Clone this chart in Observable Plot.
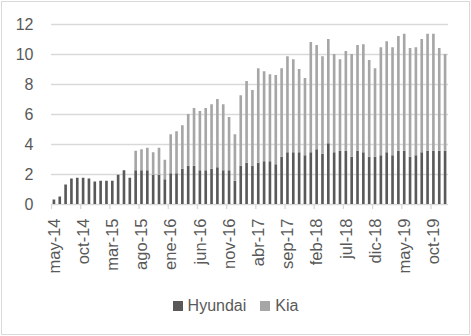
<!DOCTYPE html>
<html>
<head>
<meta charset="utf-8">
<script src="https://cdn.jsdelivr.net/npm/d3@7"></script>
<script src="https://cdn.jsdelivr.net/npm/@observablehq/plot@0.6"></script>
<style>
  html, body { margin: 0; padding: 0; background: #fff; }
  body { width: 471px; height: 336px; position: relative; overflow: hidden; font-family: "Liberation Sans", Arial, sans-serif; }
  #frame { position: absolute; left: 1px; top: 1px; width: 467px; height: 332px; border: 1px solid #d9d9d9; box-sizing: content-box; }
  #chart { position: absolute; left: 0; top: 0; }
  #legend { position: absolute; left: 0; width: 471px; top: 296px; height: 20px; display: flex; justify-content: center; align-items: center; font-size: 16px; color: #595959; }
  #legend .item { display: flex; align-items: center; }
  #legend .sw { width: 10px; height: 10px; margin-right: 5px; }
</style>
</head>
<body>
<div id="frame"></div>
<div id="chart"></div>
<div id="legend"></div>
<script>
const months = ["ene","feb","mar","abr","may","jun","jul","ago","sep","oct","nov","dic"];
const categories = [];
for (let y = 14; y <= 19; y++) {
  for (let m = 0; m < 12; m++) {
    if (y === 14 && m < 4) continue;
    categories.push(months[m] + "-" + y);
  }
}
const hyundai = [
  0.3, 0.5, 1.3, 1.7, 1.75, 1.75, 1.7, 1.5, 1.55, 1.55, 1.55, 1.95,
  2.25, 1.75, 2.25, 2.25, 2.25, 1.95, 1.95, 1.65, 2.05, 2.05, 2.35, 2.55,
  2.55, 2.25, 2.25, 2.35, 2.45, 2.25, 2.25, 1.55, 2.55, 2.75, 2.55, 2.75,
  2.85, 2.85, 2.65, 3.15, 3.45, 3.45, 3.45, 3.25, 3.45, 3.65, 3.35, 4.05,
  3.45, 3.55, 3.55, 3.15, 3.55, 3.45, 3.15, 3.15, 3.25, 3.45, 3.25, 3.55,
  3.55, 3.15, 3.25, 3.45, 3.55, 3.55, 3.55, 3.55
];
const kia = [
  0, 0, 0, 0, 0, 0, 0, 0, 0, 0, 0, 0,
  0, 0, 1.3, 1.4, 1.5, 1.5, 1.8, 1.3, 2.6, 2.8, 2.9, 3.45,
  3.85, 3.95, 4.15, 4.3, 4.55, 4.4, 3.55, 3.1, 4.7, 5.45, 5.05, 6.3,
  6.0, 5.8, 5.95, 5.9, 6.4, 6.2, 5.55, 5.15, 7.35, 6.95, 6.5, 6.95,
  6.55, 6.1, 6.65, 6.85, 7.05, 7.2, 6.45, 5.9, 7.2, 7.4, 7.2, 7.65,
  7.8, 7.25, 7.2, 7.55, 7.8, 7.8, 6.85, 6.45
];
const seriesNames = ["Hyundai", "Kia"];
const seriesColors = ["#595959", "#a6a6a6"];
const yTicks = [0, 2, 4, 6, 8, 10, 12];
const labelCats = categories.filter((d, i) => i % 5 === 0);

const rows = [];
categories.forEach((c, i) => {
  rows.push({cat: c, series: "Hyundai", value: hyundai[i]});
  rows.push({cat: c, series: "Kia", value: kia[i]});
});

const W = 471, H = 290, mL = 51, mR = 23, mT = 24, mB = 86;
const step = (W - mL - mR) / categories.length;

const chart = Plot.plot({
  width: W, height: H,
  marginLeft: mL, marginRight: mR, marginTop: mT, marginBottom: mB,
  style: {fontFamily: "'Liberation Sans', Arial, sans-serif", fontSize: "16px", color: "#595959", background: "transparent"},
  x: {domain: categories, paddingInner: 0.55, paddingOuter: 0.275, label: null, axis: null},
  y: {domain: [0, 12], label: null, axis: null},
  color: {domain: seriesNames, range: seriesColors},
  marks: [
    Plot.ruleY(yTicks, {stroke: "#d9d9d9", strokeWidth: 1.3}),
    Plot.barY(rows, {x: "cat", y: "value", fill: "series", order: seriesNames}),
    Plot.ruleX(labelCats, {x: d => d, y1: 0, y2: 0, insetBottom: -5, dx: -step / 2, stroke: "#d9d9d9", strokeWidth: 1.3}),
    Plot.axisX({ticks: labelCats, tickSize: 0, tickPadding: 14, tickRotate: -90, fontSize: 16.5, fill: "#595959", label: null}),
    Plot.axisY({ticks: yTicks, tickSize: 0, tickPadding: 18, fontSize: 16, fill: "#595959", label: null})
  ]
});
document.getElementById("chart").appendChild(chart);

const legend = document.getElementById("legend");
seriesNames.forEach((name, i) => {
  const item = document.createElement("div");
  item.className = "item";
  if (i > 0) item.style.marginLeft = "14px";
  const sw = document.createElement("span");
  sw.className = "sw";
  sw.style.background = seriesColors[i];
  const t = document.createElement("span");
  t.textContent = name;
  item.appendChild(sw);
  item.appendChild(t);
  legend.appendChild(item);
});
</script>
</body>
</html>
